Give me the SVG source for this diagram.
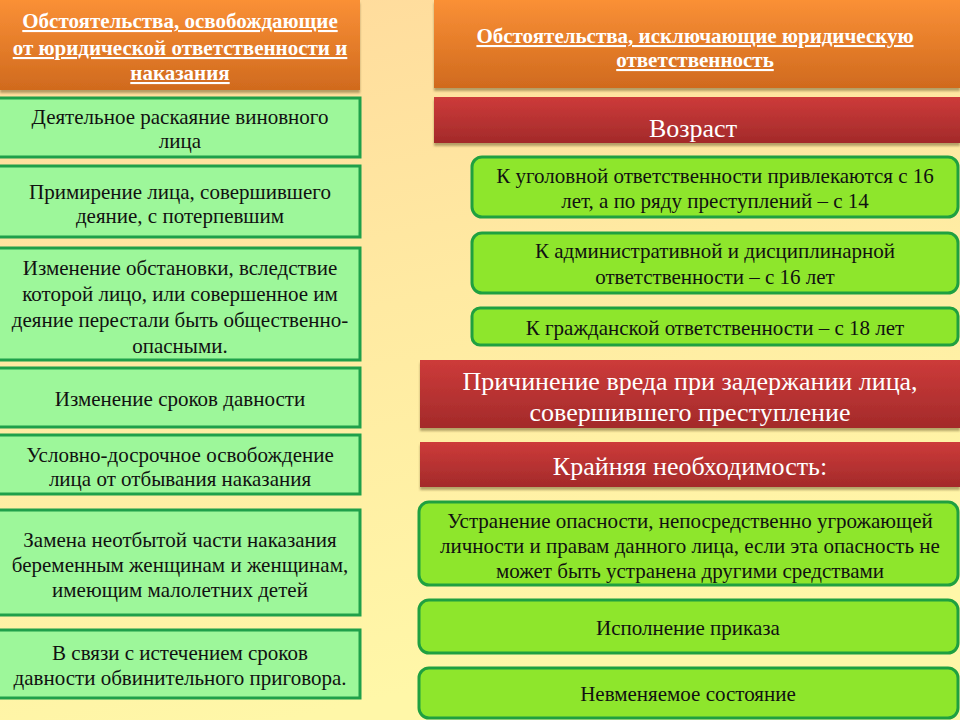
<svg xmlns="http://www.w3.org/2000/svg" width="960" height="720" viewBox="0 0 960 720">
<defs>
<linearGradient id="bg" x1="0" y1="0" x2="0.3" y2="1">
<stop offset="0" stop-color="#FFD99C"/>
<stop offset="0.5" stop-color="#FFEAA2"/>
<stop offset="1" stop-color="#FFF7A8"/>
</linearGradient>
<linearGradient id="org" x1="0" y1="0" x2="0" y2="1">
<stop offset="0" stop-color="#FA9036"/>
<stop offset="1" stop-color="#D06A1E"/>
</linearGradient>
<linearGradient id="red" x1="0" y1="0" x2="0" y2="1">
<stop offset="0" stop-color="#CD3B3A"/>
<stop offset="1" stop-color="#A32A2A"/>
</linearGradient>
<filter id="sh" x="-5%" y="-10%" width="110%" height="130%">
<feDropShadow dx="0" dy="3" stdDeviation="1" flood-color="#6B5A2A" flood-opacity="0.5"/>
</filter>
</defs>
<style>
.hd{fill:url(#org);filter:url(#sh)}
.rb{fill:url(#red);filter:url(#sh)}
.lb{fill:#9DF79A;stroke:#1FA04A;stroke-width:3}
.gb{fill:#8EE62C;stroke:#1FA040;stroke-width:3}
text{font-family:"Liberation Serif","Times New Roman",serif;text-anchor:middle}
.ht{fill:#FFFFFF;font-weight:bold;text-decoration:underline;font-size:21px}
.bt{fill:#111111;font-size:21px}
.rt{fill:#FFFFFF;font-size:26px}
</style>
<rect width="960" height="720" fill="url(#bg)"/>
<g id="header-left">
<rect class="hd" x="0" y="0" width="360" height="90"/>
<text class="ht" x="180" y="28">Обстоятельства, освобождающие</text>
<text class="ht" x="180" y="55">от юридической ответственности и</text>
<text class="ht" x="180" y="80">наказания</text>
</g>
<g id="header-right">
<rect class="hd" x="434" y="0" width="526" height="88"/>
<text class="ht" x="695" y="43">Обстоятельства, исключающие юридическую</text>
<text class="ht" x="695" y="67">ответственность</text>
</g>
<g id="l1"><rect class="lb" x="-2" y="98" width="362" height="59"/>
<text class="bt" x="180" y="124">Деятельное раскаяние виновного</text>
<text class="bt" x="180" y="148">лица</text></g>
<g id="l2"><rect class="lb" x="-2" y="166" width="362" height="71"/>
<text class="bt" x="180" y="199">Примирение лица, совершившего</text>
<text class="bt" x="180" y="223">деяние, с потерпевшим</text></g>
<g id="l3"><rect class="lb" x="-2" y="248" width="362" height="112"/>
<text class="bt" x="180" y="275">Изменение обстановки, вследствие</text>
<text class="bt" x="180" y="301">которой лицо, или совершенное им</text>
<text class="bt" x="180" y="327">деяние перестали быть общественно-</text>
<text class="bt" x="180" y="353">опасными.</text></g>
<g id="l4"><rect class="lb" x="-2" y="368" width="362" height="59"/>
<text class="bt" x="180" y="406">Изменение сроков давности</text></g>
<g id="l5"><rect class="lb" x="-2" y="435" width="362" height="59"/>
<text class="bt" x="180" y="462">Условно-досрочное освобождение</text>
<text class="bt" x="180" y="486">лица от отбывания наказания</text></g>
<g id="l6"><rect class="lb" x="-2" y="510" width="362" height="105"/>
<text class="bt" x="180" y="547">Замена неотбытой части наказания</text>
<text class="bt" x="180" y="572">беременным женщинам и женщинам,</text>
<text class="bt" x="180" y="597">имеющим малолетних детей</text></g>
<g id="l7"><rect class="lb" x="-2" y="630" width="362" height="68"/>
<text class="bt" x="180" y="660">В связи с истечением сроков</text>
<text class="bt" x="180" y="685">давности обвинительного приговора.</text></g>
<g id="r-age"><rect class="rb" x="434" y="97" width="526" height="46"/>
<text class="rt" x="693" y="137">Возраст</text></g>
<g id="rA"><rect class="gb" x="472" y="157" width="486" height="60" rx="10"/>
<text class="bt" x="715" y="183">К уголовной ответственности привлекаются с 16</text>
<text class="bt" x="715" y="208">лет, а по ряду преступлений – с 14</text></g>
<g id="rB"><rect class="gb" x="472" y="233" width="486" height="60" rx="10"/>
<text class="bt" x="715" y="258">К административной и дисциплинарной</text>
<text class="bt" x="715" y="284">ответственности – с 16 лет</text></g>
<g id="rC"><rect class="gb" x="472" y="308" width="486" height="37" rx="8"/>
<text class="bt" x="715" y="335">К  гражданской ответственности – с 18 лет</text></g>
<g id="r-harm"><rect class="rb" x="420" y="360" width="540" height="68"/>
<text class="rt" x="690" y="390">Причинение вреда при задержании лица,</text>
<text class="rt" x="690" y="421">совершившего преступление</text></g>
<g id="r-need"><rect class="rb" x="420" y="442" width="540" height="45"/>
<text class="rt" x="690" y="475">Крайняя необходимость:</text></g>
<g id="rD"><rect class="gb" x="419" y="502" width="539" height="83" rx="10"/>
<text class="bt" x="690" y="528">Устранение опасности, непосредственно угрожающей</text>
<text class="bt" x="690" y="553">личности и правам данного лица, если эта опасность не</text>
<text class="bt" x="690" y="578">может быть устранена другими средствами</text></g>
<g id="rE"><rect class="gb" x="419" y="600" width="539" height="53" rx="10"/>
<text class="bt" x="688" y="635">Исполнение приказа</text></g>
<g id="rF"><rect class="gb" x="419" y="668" width="539" height="50" rx="10"/>
<text class="bt" x="688" y="701">Невменяемое состояние</text></g>
<g id="connectors"/>
</svg>
